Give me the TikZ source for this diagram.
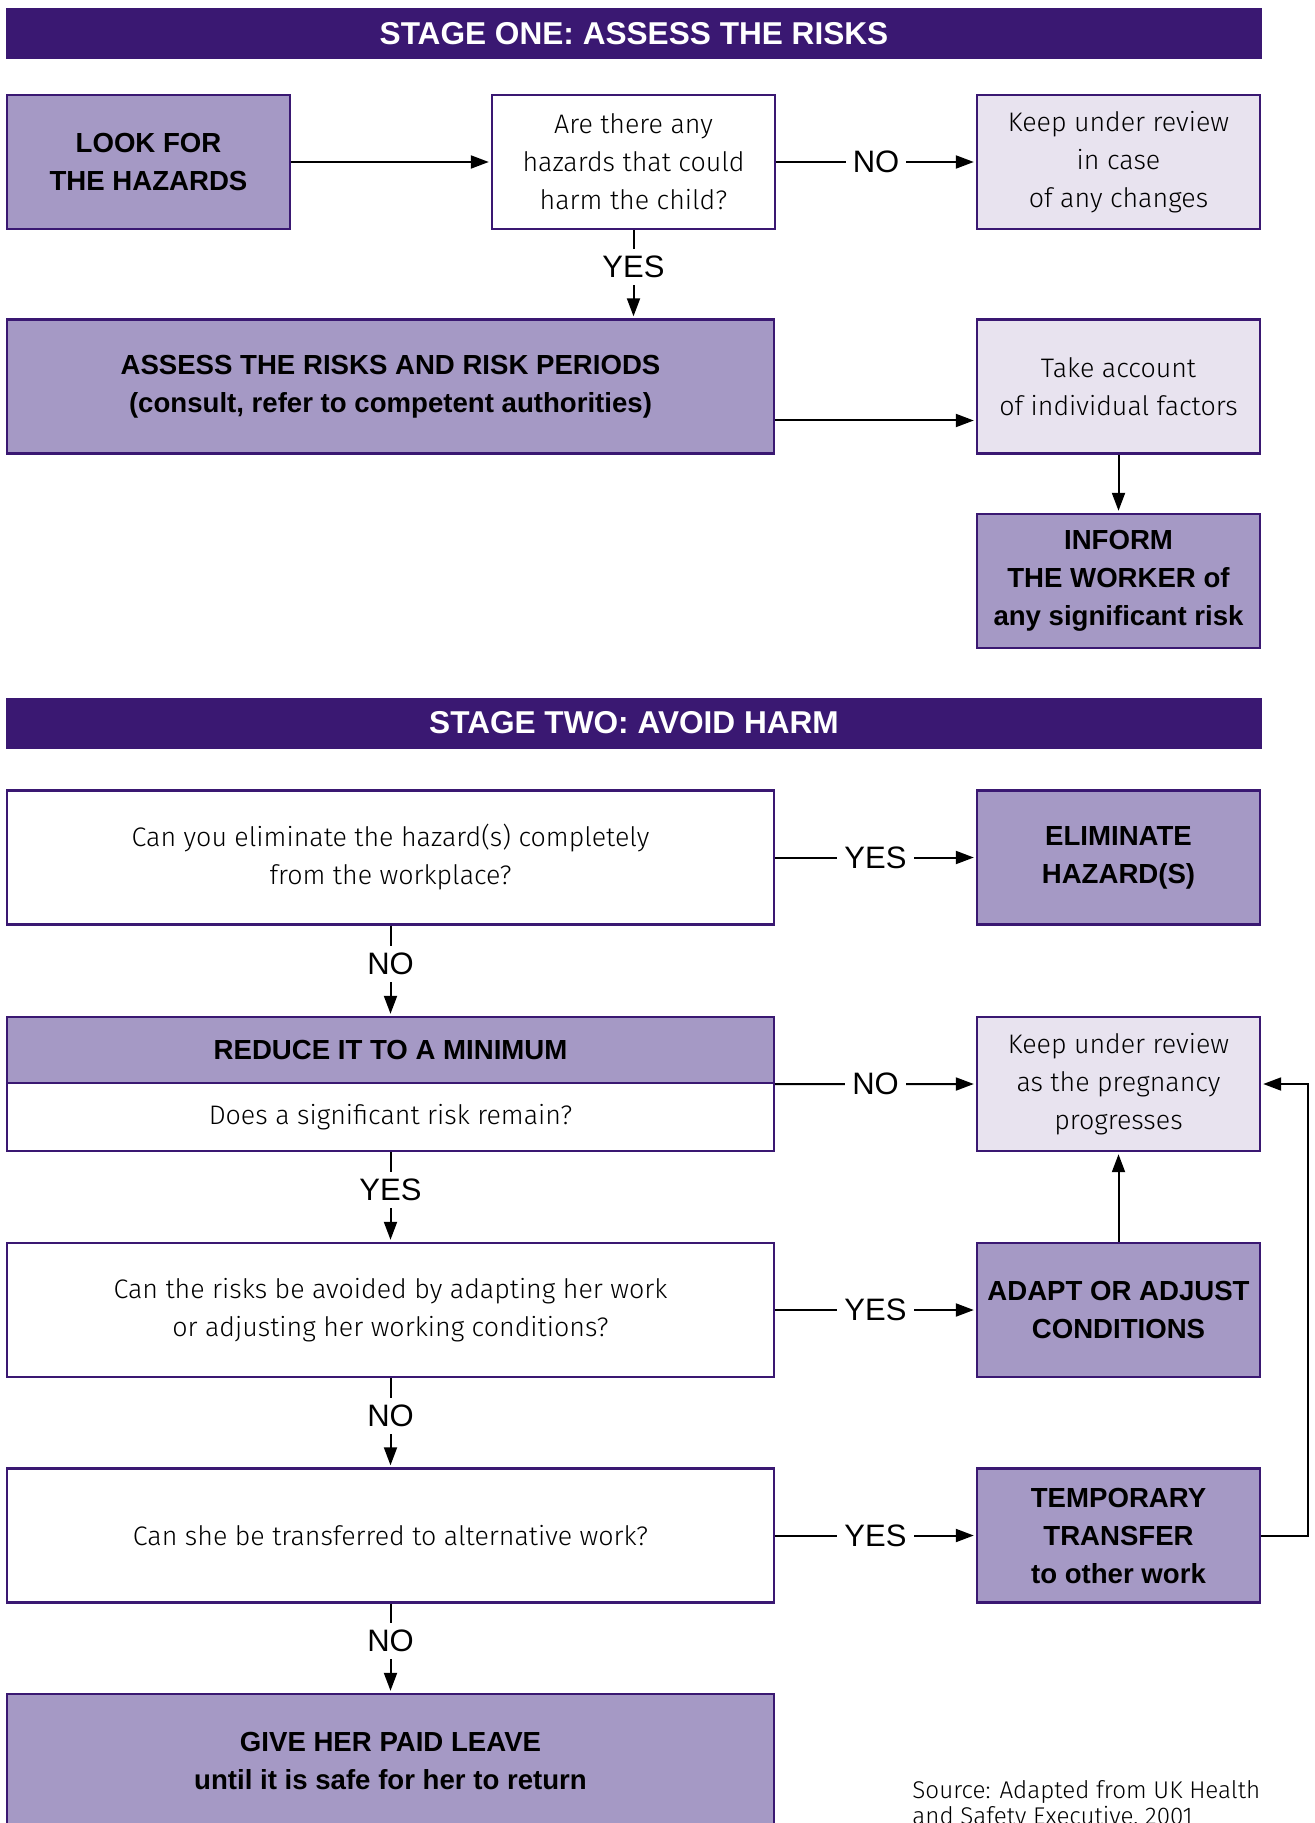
\documentclass[tikz,border=0pt]{standalone}
\usepackage{fontspec}
\setmainfont{Fira Sans Light}[BoldFont={Liberation Sans Bold}]
\newfontfamily\labelfont{Liberation Sans}
\usetikzlibrary{arrows.meta}
\definecolor{stagepurple}{RGB}{58,24,114}
\definecolor{boxdark}{RGB}{165,153,197}
\definecolor{boxlight}{RGB}{232,227,239}
\tikzset{>={Triangle[length=9pt,width=6.5pt]},
  box/.style={draw=stagepurple,line width=1.2pt,align=center,inner sep=2pt,font=\fontsize{13.4}{19}\selectfont},
  darkbox/.style={box,fill=boxdark,font=\fontsize{13.8}{19}\selectfont\bfseries},
  lightbox/.style={box,fill=boxlight},
  whitebox/.style={box,fill=white},
  narrow/.style={minimum width=141.5pt,minimum height=67pt},
  wide/.style={minimum width=383.5pt,minimum height=67pt},
  stagebar/.style={fill=stagepurple,text=white,minimum width=628pt,minimum height=25.5pt,font=\fontsize{15.8}{18}\selectfont\bfseries},
  lab/.style={fill=white,inner sep=3.5pt,font=\fontsize{15.5}{18}\labelfont},
  vlab/.style={lab,pos=0.42},
  link/.style={->,line width=1pt,shorten >=1pt}}
\begin{document}
\begin{tikzpicture}[x=0.5pt,y=-0.5pt]
\useasboundingbox (0,0) rectangle (1314,1823);
% stage one
\node (stage1) [stagebar] at (634,33.5) {STAGE ONE: ASSESS THE RISKS};
\node (look) [darkbox,narrow] at (148.5,162) {LOOK FOR\\THE HAZARDS};
\node (are) [whitebox,narrow] at (633.5,162) {Are there any\\hazards that could\\harm the child?};
\node (keep1) [lightbox,narrow] at (1118.5,162) {Keep under review\\in case\\of any changes};
\node (assess) [darkbox,wide] at (390.5,386.5) {ASSESS THE RISKS AND RISK PERIODS\\(consult, refer to competent authorities)};
\node (take) [lightbox,narrow] at (1118.5,386.5) {Take account\\of individual factors};
\node (inform) [darkbox,narrow] at (1118.5,581) {INFORM\\THE WORKER of\\any significant risk};
% stage two
\node (stage2) [stagebar] at (634,723) {STAGE TWO: AVOID HARM};
\node (elim) [whitebox,wide] at (390.5,857.5) {Can you eliminate the hazard(s) completely\\from the workplace?};
\node (elimh) [darkbox,narrow] at (1118.5,857.5) {ELIMINATE\\HAZARD(S)};
\node (reducehead) [darkbox,wide,minimum height=33pt] at (390.5,1050) {REDUCE IT TO A MINIMUM};
\node (reducequest) [whitebox,wide,minimum height=34pt] at (390.5,1117) {Does a significant risk remain?};
\node (keep2) [lightbox,narrow] at (1118.5,1084) {Keep under review\\as the pregnancy\\progresses};
\node (adaptq) [whitebox,wide] at (390.5,1310) {Can the risks be avoided by adapting her work\\or adjusting her working conditions?};
\node (adapt) [darkbox,narrow] at (1118.5,1310) {ADAPT OR ADJUST\\CONDITIONS};
\node (transq) [whitebox,wide] at (390.5,1535.5) {Can she be transferred to alternative work?};
\node (temp) [darkbox,narrow] at (1118.5,1535.5) {TEMPORARY\\TRANSFER\\to other work};
\node (leave) [darkbox,wide] at (390.5,1761) {GIVE HER PAID LEAVE\\until it is safe for her to return};
\node (source) [anchor=north west,align=left,inner sep=0pt,font=\fontsize{12.1}{12.8}\selectfont] at (912,1780) {Source: Adapted from UK Health\\and Safety Executive, 2001};
\path[link]
(look) edge (are)
(are) edge node[lab]{NO} (keep1)
(are.south) edge node[vlab]{YES} (are.south |- assess.north)
([yshift=-17pt]assess.east) edge ([yshift=-17pt]take.west)
(take) edge (inform)
;
\path[link]
(elim) edge node[lab]{YES} (elimh)
(elim) edge node[vlab]{NO} (reducehead)
(reducehead.south east) edge node[lab]{NO} (keep2.west)
(reducequest) edge node[vlab]{YES} (adaptq)
(adapt) edge (keep2)
(adaptq) edge node[lab]{YES} (adapt)
(adaptq) edge node[vlab]{NO} (transq)
(transq) edge node[lab]{YES} (temp)
(transq) edge node[vlab]{NO} (leave)
;
\draw[link] (temp.east) -- ++(47,0) |- (keep2.east);
\end{tikzpicture}
\end{document}
